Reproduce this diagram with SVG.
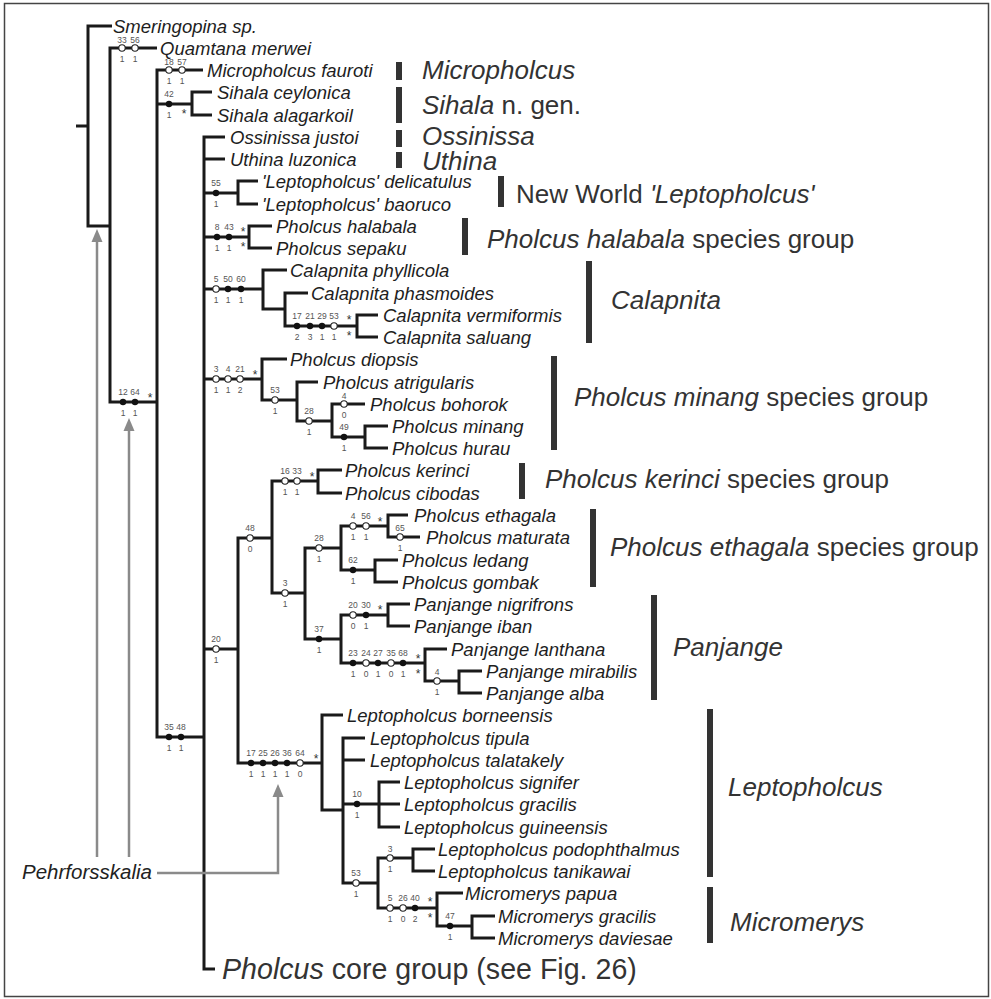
<svg xmlns="http://www.w3.org/2000/svg" width="991" height="999" viewBox="0 0 991 999">
<style>
text{font-family:"Liberation Sans",Arial,sans-serif}
.t{font-style:italic;font-size:18.5px;fill:#1e1e1e}
.i{font-style:italic}
.g{font-size:26px;fill:#333}
.core{font-size:28.6px;fill:#333}
.n{font-size:8.5px;fill:#555;text-anchor:middle}
.s{font-size:12px;fill:#333;text-anchor:middle}
.br{stroke:#1a1a1a;stroke-width:3;fill:none;stroke-linejoin:miter}
.o{fill:#fff;stroke:#222;stroke-width:1.1}
.f{fill:#111}
.bar{fill:#333}
.ar{stroke:#8a8a8a;stroke-width:2.5;fill:none}
.ah{fill:#8a8a8a}
</style>
<rect x="0" y="0" width="991" height="999" fill="#fff"/>
<rect x="4.5" y="3.5" width="984" height="993" fill="none" stroke="#444" stroke-width="1.5"/>

<g id="connectors">
<path class="br" d="M76 126H88M112 26H88V226H110M157 48H110V402H157M203 70H157V737H204M157 104H192M212 92H192V115H212"/>
<path class="br" d="M225 137H204V969H215M204 159H225M204 193H238M258 181H238V204H258M204 237H249M272 226H249V248H272"/>
<path class="br" d="M204 289H263M287 270H263V309H285M308 293H285V326H357M378 315H357V337H378"/>
<path class="br" d="M204 379H262M287 359H262V400H297M318 382H297V421H332M365 404H332V437H365M388 426H365V448H388"/>
<path class="br" d="M204 649H238M272 538H238V763H322M318 481H272V593H305M342 470H318V493H342M341 548H305V639H341M388 526H341V570H375M408 515H388V537H420M398 560H375V582H398"/>
<path class="br" d="M388 615H341V663H425M410 604H388V626H410M447 649H425V681H459M482 671H459V693H482"/>
<path class="br" d="M343 715H322V810H343M365 738H343V883H378M343 760H365M343 804H400M400 782H379V827H400M413 858H378V908H437M435 849H413V871H435M463 893H437V926H472M495 916H472V938H495"/>
</g>

<g id="arrows">
<path class="ar" d="M97 857V240M129 857V428M157 873H278V795"/>
<polygon class="ah" points="97,229 91.5,242 102.5,242"/>
<polygon class="ah" points="129,418 123.5,431 134.5,431"/>
<polygon class="ah" points="278,784 272.5,797 283.5,797"/>
<text x="22" y="879" class="i" font-size="20.5" fill="#222">Pehrforsskalia</text>
</g>

<g id="taxa">
<text class="t" x="113" y="32.5">Smeringopina sp.</text>
<text class="t" x="160" y="54.5">Quamtana merwei</text>
<text class="t" x="207" y="76.5">Micropholcus fauroti</text>
<text class="t" x="217" y="98.5">Sihala ceylonica</text>
<text class="t" x="217" y="121.5">Sihala alagarkoil</text>
<text class="t" x="230" y="143.5">Ossinissa justoi</text>
<text class="t" x="230" y="165.5">Uthina luzonica</text>
<text class="t" x="262" y="187.5">'Leptopholcus' delicatulus</text>
<text class="t" x="262" y="210.5">'Leptopholcus' baoruco</text>
<text class="t" x="276" y="232.5">Pholcus halabala</text>
<text class="t" x="276" y="254.5">Pholcus sepaku</text>
<text class="t" x="290" y="276.5">Calapnita phyllicola</text>
<text class="t" x="311" y="299.5">Calapnita phasmoides</text>
<text class="t" x="383" y="321.5">Calapnita vermiformis</text>
<text class="t" x="383" y="343.5">Calapnita saluang</text>
<text class="t" x="290" y="365.5">Pholcus diopsis</text>
<text class="t" x="323" y="388.5">Pholcus atrigularis</text>
<text class="t" x="370" y="410.5">Pholcus bohorok</text>
<text class="t" x="392" y="432.5">Pholcus minang</text>
<text class="t" x="392" y="454.5">Pholcus hurau</text>
<text class="t" x="345" y="476.5">Pholcus kerinci</text>
<text class="t" x="345" y="499.5">Pholcus cibodas</text>
<text class="t" x="414" y="521.5">Pholcus ethagala</text>
<text class="t" x="426" y="543.5">Pholcus maturata</text>
<text class="t" x="402" y="566.5">Pholcus ledang</text>
<text class="t" x="402" y="588.5">Pholcus gombak</text>
<text class="t" x="414" y="610.5">Panjange nigrifrons</text>
<text class="t" x="414" y="632.5">Panjange iban</text>
<text class="t" x="451" y="655.5">Panjange lanthana</text>
<text class="t" x="486" y="677.5">Panjange mirabilis</text>
<text class="t" x="486" y="699.5">Panjange alba</text>
<text class="t" x="347" y="721.5">Leptopholcus borneensis</text>
<text class="t" x="370" y="744.5">Leptopholcus tipula</text>
<text class="t" x="370" y="766.5">Leptopholcus talatakely</text>
<text class="t" x="404" y="788.5">Leptopholcus signifer</text>
<text class="t" x="404" y="810.5">Leptopholcus gracilis</text>
<text class="t" x="404" y="833.5">Leptopholcus guineensis</text>
<text class="t" x="438" y="855.5">Leptopholcus podophthalmus</text>
<text class="t" x="438" y="877.5">Leptopholcus tanikawai</text>
<text class="t" x="465" y="899.5">Micromerys papua</text>
<text class="t" x="498" y="922.5">Micromerys gracilis</text>
<text class="t" x="498" y="944.5">Micromerys daviesae</text>
<text class="core" x="222" y="979"><tspan class="i">Pholcus</tspan> core group (see Fig. 26)</text>
</g>

<g id="groups">
<rect class="bar" x="396" y="62" width="6" height="18"/><text class="g i" x="422" y="79">Micropholcus</text>
<rect class="bar" x="396" y="87" width="6" height="36"/><text class="g" x="422" y="114"><tspan class="i">Sihala</tspan> n. gen.</text>
<rect class="bar" x="396" y="130" width="6" height="17"/><text class="g i" x="422" y="145">Ossinissa</text>
<rect class="bar" x="396" y="152" width="6" height="16"/><text class="g i" x="422" y="170">Uthina</text>
<rect class="bar" x="498" y="176" width="6" height="31"/><text class="g" x="516" y="203">New World <tspan class="i">'Leptopholcus'</tspan></text>
<rect class="bar" x="462" y="218" width="6" height="37"/><text class="g" x="487" y="248"><tspan class="i">Pholcus halabala</tspan> species group</text>
<rect class="bar" x="586" y="261" width="6" height="82"/><text class="g i" x="611" y="309">Calapnita</text>
<rect class="bar" x="551" y="356" width="6" height="94"/><text class="g" x="574" y="406"><tspan class="i">Pholcus minang</tspan> species group</text>
<rect class="bar" x="519" y="463" width="6" height="36"/><text class="g" x="545" y="488"><tspan class="i">Pholcus kerinci</tspan> species group</text>
<rect class="bar" x="590" y="509" width="6" height="78"/><text class="g" x="610" y="556"><tspan class="i">Pholcus ethagala</tspan> species group</text>
<rect class="bar" x="651" y="595" width="6" height="105"/><text class="g i" x="673" y="656">Panjange</text>
<rect class="bar" x="707" y="709" width="6" height="168"/><text class="g i" x="728" y="796">Leptopholcus</text>
<rect class="bar" x="707" y="887" width="6" height="56"/><text class="g i" x="730" y="931">Micromerys</text>
</g>

<g id="node-q"><circle class="o" cx="122" cy="48" r="3.2"/><circle class="o" cx="135" cy="48" r="3.2"/><text class="n" x="122" y="43">33</text><text class="n" x="135" y="43">56</text><text class="n" x="122" y="62">1</text><text class="n" x="135" y="62">1</text></g>
<g id="node-mf"><circle class="o" cx="169" cy="70" r="3.2"/><circle class="o" cx="182" cy="70" r="3.2"/><text class="n" x="169" y="65">18</text><text class="n" x="182" y="65">57</text><text class="n" x="169" y="84">1</text><text class="n" x="182" y="84">1</text></g>
<g id="node-si"><circle class="f" cx="169" cy="104" r="3.2"/><text class="n" x="169" y="97">42</text><text class="n" x="169" y="118">1</text><text class="s" x="184" y="118">*</text></g>
<g id="node-1264"><circle class="f" cx="123" cy="402" r="3.2"/><circle class="f" cx="135" cy="402" r="3.2"/><text class="n" x="123" y="395">12</text><text class="n" x="135" y="395">64</text><text class="n" x="123" y="416">1</text><text class="n" x="135" y="416">1</text><text class="s" x="150" y="402">*</text></g>
<g id="node-3548"><circle class="f" cx="169" cy="737" r="3.2"/><circle class="f" cx="181" cy="737" r="3.2"/><text class="n" x="169" y="730">35</text><text class="n" x="181" y="730">48</text><text class="n" x="169" y="751">1</text><text class="n" x="181" y="751">1</text></g>
<g id="node-55"><circle class="f" cx="216" cy="193" r="3.2"/><text class="n" x="216" y="186">55</text><text class="n" x="216" y="207">1</text></g>
<g id="node-843"><circle class="f" cx="217" cy="237" r="3.2"/><circle class="f" cx="229" cy="237" r="3.2"/><text class="n" x="217" y="230">8</text><text class="n" x="229" y="230">43</text><text class="n" x="217" y="251">1</text><text class="n" x="229" y="251">1</text><text class="s" x="243" y="236">*</text><text class="s" x="243" y="251">*</text></g>
<g id="node-cal"><circle class="o" cx="216" cy="289" r="3.2"/><circle class="f" cx="228" cy="289" r="3.2"/><circle class="f" cx="241" cy="289" r="3.2"/><text class="n" x="216" y="282">5</text><text class="n" x="228" y="282">50</text><text class="n" x="241" y="282">60</text><text class="n" x="216" y="303">1</text><text class="n" x="228" y="303">1</text><text class="n" x="241" y="303">1</text></g>
<g id="node-cal2"><circle class="f" cx="297" cy="326" r="3.2"/><circle class="f" cx="310" cy="326" r="3.2"/><circle class="f" cx="322" cy="326" r="3.2"/><circle class="o" cx="334" cy="326" r="3.2"/><text class="n" x="297" y="319">17</text><text class="n" x="310" y="319">21</text><text class="n" x="322" y="319">29</text><text class="n" x="334" y="319">53</text><text class="n" x="297" y="340">2</text><text class="n" x="310" y="340">3</text><text class="n" x="322" y="340">1</text><text class="n" x="334" y="340">1</text><text class="s" x="349" y="324">*</text><text class="s" x="349" y="340">*</text></g>
<g id="node-min"><circle class="o" cx="216" cy="379" r="3.2"/><circle class="o" cx="228" cy="379" r="3.2"/><circle class="o" cx="240" cy="379" r="3.2"/><text class="n" x="216" y="372">3</text><text class="n" x="228" y="372">4</text><text class="n" x="240" y="372">21</text><text class="n" x="216" y="393">1</text><text class="n" x="228" y="393">1</text><text class="n" x="240" y="393">2</text><text class="s" x="255" y="379">*</text></g>
<g id="node-53"><circle class="o" cx="275" cy="400" r="3.2"/><text class="n" x="275" y="393">53</text><text class="n" x="275" y="414">1</text></g>
<g id="node-28a"><circle class="o" cx="309" cy="421" r="3.2"/><text class="n" x="309" y="414">28</text><text class="n" x="309" y="435">1</text></g>
<g id="node-4a"><circle class="o" cx="344" cy="404" r="3.2"/><text class="n" x="344" y="399">4</text><text class="n" x="344" y="418">0</text></g>
<g id="node-49"><circle class="f" cx="344" cy="437" r="3.2"/><text class="n" x="344" y="430">49</text><text class="n" x="344" y="451">1</text></g>
<g id="node-48"><circle class="o" cx="250" cy="538" r="3.2"/><text class="n" x="250" y="531">48</text><text class="n" x="250" y="552">0</text></g>
<g id="node-1633"><circle class="o" cx="285" cy="481" r="3.2"/><circle class="o" cx="297" cy="481" r="3.2"/><text class="n" x="285" y="474">16</text><text class="n" x="297" y="474">33</text><text class="n" x="285" y="495">1</text><text class="n" x="297" y="495">1</text><text class="s" x="312" y="481">*</text></g>
<g id="node-3"><circle class="o" cx="285" cy="593" r="3.2"/><text class="n" x="285" y="586">3</text><text class="n" x="285" y="607">1</text></g>
<g id="node-28b"><circle class="o" cx="319" cy="548" r="3.2"/><text class="n" x="319" y="541">28</text><text class="n" x="319" y="562">1</text></g>
<g id="node-456"><circle class="o" cx="353" cy="526" r="3.2"/><circle class="o" cx="366" cy="526" r="3.2"/><text class="n" x="353" y="519">4</text><text class="n" x="366" y="519">56</text><text class="n" x="353" y="540">1</text><text class="n" x="366" y="540">1</text><text class="s" x="380" y="526">*</text></g>
<g id="node-65"><circle class="o" cx="400" cy="537" r="3.2"/><text class="n" x="400" y="531">65</text><text class="n" x="400" y="551">1</text></g>
<g id="node-62"><circle class="f" cx="353" cy="570" r="3.2"/><text class="n" x="353" y="563">62</text><text class="n" x="353" y="584">1</text></g>
<g id="node-37"><circle class="f" cx="319" cy="639" r="3.2"/><text class="n" x="319" y="632">37</text><text class="n" x="319" y="653">1</text></g>
<g id="node-2030"><circle class="o" cx="353" cy="615" r="3.2"/><circle class="f" cx="366" cy="615" r="3.2"/><text class="n" x="353" y="608">20</text><text class="n" x="366" y="608">30</text><text class="n" x="353" y="629">0</text><text class="n" x="366" y="629">1</text><text class="s" x="380" y="614">*</text></g>
<g id="node-pan"><circle class="f" cx="353" cy="663" r="3.2"/><circle class="o" cx="366" cy="663" r="3.2"/><circle class="f" cx="378" cy="663" r="3.2"/><circle class="o" cx="391" cy="663" r="3.2"/><circle class="f" cx="403" cy="663" r="3.2"/><text class="n" x="353" y="656">23</text><text class="n" x="366" y="656">24</text><text class="n" x="378" y="656">27</text><text class="n" x="391" y="656">35</text><text class="n" x="403" y="656">68</text><text class="n" x="353" y="677">1</text><text class="n" x="366" y="677">0</text><text class="n" x="378" y="677">1</text><text class="n" x="391" y="677">0</text><text class="n" x="403" y="677">1</text><text class="s" x="418" y="663">*</text><text class="s" x="418" y="678">*</text></g>
<g id="node-4b"><circle class="o" cx="437" cy="681" r="3.2"/><text class="n" x="437" y="675">4</text><text class="n" x="437" y="695">1</text></g>
<g id="node-20"><circle class="o" cx="216" cy="649" r="3.2"/><text class="n" x="216" y="642">20</text><text class="n" x="216" y="663">1</text></g>
<g id="node-lep"><circle class="f" cx="251" cy="763" r="3.2"/><circle class="f" cx="263" cy="763" r="3.2"/><circle class="f" cx="275" cy="763" r="3.2"/><circle class="f" cx="287" cy="763" r="3.2"/><circle class="o" cx="300" cy="763" r="3.2"/><text class="n" x="251" y="756">17</text><text class="n" x="263" y="756">25</text><text class="n" x="275" y="756">26</text><text class="n" x="287" y="756">36</text><text class="n" x="300" y="756">64</text><text class="n" x="251" y="777">1</text><text class="n" x="263" y="777">1</text><text class="n" x="275" y="777">1</text><text class="n" x="287" y="777">1</text><text class="n" x="300" y="777">0</text><text class="s" x="316" y="763">*</text></g>
<g id="node-10"><circle class="f" cx="357" cy="804" r="3.2"/><text class="n" x="357" y="797">10</text><text class="n" x="357" y="818">1</text></g>
<g id="node-53b"><circle class="o" cx="356" cy="883" r="3.2"/><text class="n" x="356" y="876">53</text><text class="n" x="356" y="897">1</text></g>
<g id="node-3b"><circle class="o" cx="390" cy="858" r="3.2"/><text class="n" x="390" y="852">3</text><text class="n" x="390" y="872">1</text></g>
<g id="node-mic"><circle class="o" cx="390" cy="908" r="3.2"/><circle class="o" cx="403" cy="908" r="3.2"/><circle class="f" cx="415" cy="908" r="3.2"/><text class="n" x="390" y="901">5</text><text class="n" x="403" y="901">26</text><text class="n" x="415" y="901">40</text><text class="n" x="390" y="922">1</text><text class="n" x="403" y="922">0</text><text class="n" x="415" y="922">2</text><text class="s" x="430" y="906">*</text><text class="s" x="430" y="922">*</text></g>
<g id="node-47"><circle class="f" cx="450" cy="926" r="3.2"/><text class="n" x="450" y="919">47</text><text class="n" x="450" y="940">1</text></g>
</svg>
